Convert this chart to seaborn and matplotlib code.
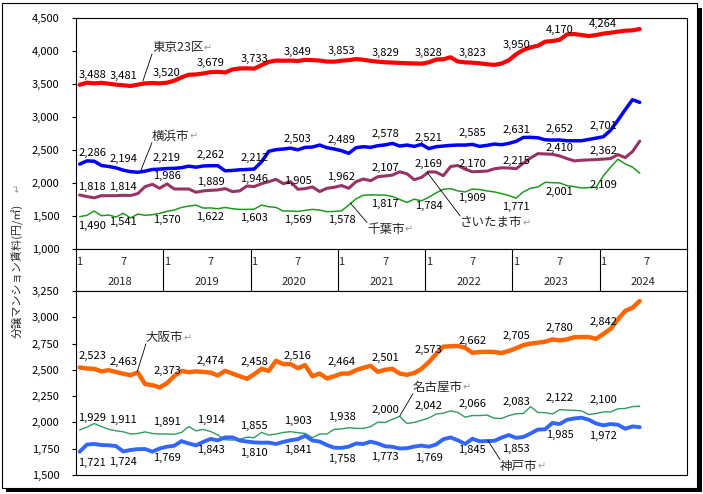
import numpy as np
import seaborn as sns
import matplotlib.pyplot as plt
from matplotlib.patches import Rectangle

# monthly rent (yen / m2), Jan 2018 .. Jun 2024
tokyo = [
    3488, 3520, 3510, 3518, 3505, 3490, 3481, 3470, 3490, 3510, 3515, 3510,
    3520, 3550, 3600, 3640, 3645, 3660, 3679, 3685, 3675, 3720, 3735, 3738,
    3733, 3785, 3835, 3855, 3852, 3855, 3849, 3865, 3862, 3855, 3840, 3838,
    3853, 3862, 3878, 3868, 3850, 3838, 3829, 3825, 3820, 3815, 3812, 3808,
    3828, 3870, 3875, 3905, 3840, 3828, 3823, 3813, 3800, 3790, 3810, 3860,
    3950, 4015, 4055, 4080, 4141, 4151, 4170, 4252, 4257, 4242, 4227, 4242,
    4264, 4277, 4293, 4308, 4313, 4333]
yokohama = [
    2286, 2335, 2330, 2265, 2250, 2230, 2194, 2172, 2162, 2180, 2205, 2210,
    2219, 2222, 2232, 2255, 2240, 2258, 2262, 2262, 2185, 2190, 2200, 2205,
    2212, 2320, 2480, 2505, 2515, 2528, 2503, 2540, 2545, 2575, 2535, 2515,
    2489, 2450, 2535, 2550, 2540, 2565, 2578, 2600, 2560, 2575, 2555, 2585,
    2521, 2550, 2560, 2570, 2575, 2575, 2585, 2555, 2570, 2590, 2580, 2600,
    2631, 2690, 2692, 2685, 2655, 2650, 2652, 2640, 2640, 2640, 2660, 2680,
    2701, 2800, 2950, 3110, 3262, 3222]
saitama = [
    1818, 1795, 1775, 1808, 1808, 1808, 1814, 1810, 1840, 1945, 1980, 1920,
    1986, 1910, 1909, 1909, 1860, 1880, 1889, 1895, 1915, 1870, 1880, 1955,
    1946, 1990, 2020, 2055, 1990, 2020, 1905, 1915, 1940, 1870, 1920, 1935,
    1962, 1920, 2020, 2060, 2035, 2095, 2107, 2120, 2170, 2140, 2050, 2085,
    2169, 2165, 2110, 2250, 2265, 2210, 2170, 2175, 2180, 2215, 2230, 2228,
    2215, 2300, 2380, 2445, 2440, 2435, 2410, 2370, 2335, 2345, 2350, 2355,
    2362, 2370, 2430, 2385, 2475, 2635]
chiba = [
    1490, 1510, 1575, 1505, 1515, 1485, 1541, 1470, 1530, 1510, 1520, 1540,
    1570, 1590, 1630, 1650, 1665, 1620, 1622, 1610, 1630, 1610, 1600, 1600,
    1603, 1665, 1640, 1630, 1575, 1575, 1569, 1585, 1600, 1590, 1565, 1570,
    1578, 1665, 1760, 1815, 1820, 1818, 1817, 1795, 1750, 1705, 1755, 1730,
    1784, 1850, 1905, 1915, 1880, 1865, 1909, 1900, 1880, 1865, 1840, 1810,
    1771, 1865, 1920, 1940, 2010, 2005, 2001, 1960, 1945, 1925, 1930, 1935,
    2109, 2240, 2360, 2290, 2240, 2150]
osaka = [
    2523, 2513, 2510, 2485, 2497, 2480, 2463, 2450, 2475, 2365, 2355, 2333,
    2373, 2440, 2490, 2478, 2485, 2480, 2474, 2447, 2490, 2465, 2440, 2415,
    2458, 2510, 2490, 2586, 2555, 2555, 2516, 2545, 2440, 2465, 2418, 2440,
    2464, 2465, 2497, 2520, 2538, 2482, 2501, 2510, 2465, 2453, 2470, 2510,
    2573, 2650, 2720, 2725, 2727, 2710, 2662, 2670, 2672, 2670, 2660, 2680,
    2705, 2735, 2750, 2758, 2768, 2790, 2780, 2790, 2810, 2812, 2812, 2795,
    2842, 2890, 2980, 3060, 3090, 3155]
nagoya = [
    1929, 1955, 1990, 1960, 1935, 1920, 1911, 1890, 1895, 1910, 1895, 1890,
    1891, 1887, 1905, 1960, 1920, 1933, 1914, 1880, 1835, 1832, 1840, 1860,
    1855, 1905, 1880, 1890, 1905, 1912, 1903, 1895, 1855, 1890, 1890, 1935,
    1938, 1950, 1943, 1943, 1960, 2003, 2000, 2030, 2058, 1990, 2000, 2020,
    2042, 2080, 2088, 2110, 2095, 2050, 2066, 2065, 2070, 2040, 2038, 2065,
    2083, 2085, 2150, 2095, 2093, 2080, 2122, 2118, 2115, 2110, 2075, 2085,
    2100, 2100, 2130, 2133, 2150, 2155]
kobe = [
    1721, 1790, 1795, 1785, 1783, 1775, 1724, 1738, 1746, 1747, 1722, 1752,
    1769, 1778, 1822, 1800, 1782, 1815, 1843, 1830, 1858, 1858, 1828, 1818,
    1810, 1807, 1808, 1795, 1815, 1830, 1841, 1873, 1828, 1818, 1785, 1760,
    1758, 1770, 1800, 1795, 1817, 1800, 1773, 1768, 1752, 1755, 1770, 1780,
    1769, 1790, 1840, 1857, 1830, 1795, 1845, 1820, 1823, 1825, 1855, 1880,
    1853, 1862, 1895, 1932, 1935, 1995, 1985, 2025, 2038, 2045, 2025, 1990,
    1972, 1985, 1978, 1940, 1962, 1955]

years = [2018, 2019, 2020, 2021, 2022, 2023, 2024]
month_ticks = ["1", "7"]
top_yticks = [1000, 1500, 2000, 2500, 3000, 3500, 4000, 4500]
bot_yticks = [1500, 1750, 2000, 2250, 2500, 2750, 3000, 3250]
ylabel = "分譲マンション賃料(円/㎡)"

sns.set_theme(style="white")
plt.rcParams['font.family'] = ['Noto Sans CJK JP', 'DejaVu Sans']

W, H = 703, 494
fig = plt.figure(figsize=(W / 100, H / 100), dpi=100)


def box(l, t, r, b):
    return [l / W, 1 - b / H, (r - l) / W, (b - t) / H]


# outer frame with drop shadow
fig.add_artist(Rectangle((6 / W, 1 - 492 / H), 696 / W, 484 / H, transform=fig.transFigure,
                         facecolor="black", edgecolor="none", zorder=-2))
fig.add_artist(Rectangle((2 / W, 1 - 488 / H), 695 / W, 485 / H, transform=fig.transFigure,
                         facecolor="white", edgecolor="black", lw=0.8, zorder=-1))

ax_top = fig.add_axes(box(76, 18, 687, 249))
ax_band = fig.add_axes(box(76, 249, 687, 291))
ax_bot = fig.add_axes(box(76, 291, 687, 475))

n_cat = 12 * len(years)
months = np.arange(len(tokyo)) + 0.5

# name, values, colour, width, label offset (pt, + above / - below)
top_series = [
    ("千葉市", chiba, "#1E9A1E", 1.1, -6.5),
    ("さいたま市", saitama, "#993366", 2.2, 5.8),
    ("横浜市", yokohama, "#0000FF", 2.5, 7.9),
    ("東京23区", tokyo, "#FF0000", 3.0, 6.8),
]
bot_series = [
    ("名古屋市", nagoya, "#339966", 1.0, 8.6),
    ("神戸市", kobe, "#3366FF", 2.8, -7.9),
    ("大阪市", osaka, "#FF6600", 3.2, 8.6),
]


def draw_panel(ax, series, ylim, yticks):
    for name, vals, col, lw, off in series:
        sns.lineplot(x=months, y=vals, ax=ax, color=col, linewidth=lw,
                     solid_joinstyle="round", solid_capstyle="round")
        for i in range(0, len(vals), 6):
            xi = months[i] if i > 0 else 0.3
            ax.annotate(f"{vals[i]:,}", (xi, vals[i]), xytext=(0, off),
                        textcoords="offset points", ha="center" if i > 0 else "left",
                        va="center", fontsize=8, color="black")
    ax.set_xlim(0, n_cat)
    ax.set_ylim(*ylim)
    ax.set_yticks(yticks)
    ax.set_yticklabels([f"{t:,}" for t in yticks])
    ax.set_xticks([])
    ax.set_xlabel("")
    ax.set_ylabel("")
    ax.tick_params(axis="y", left=True, direction="out", length=3, width=0.8,
                   pad=9, labelsize=8, colors="black")
    for sp in ax.spines.values():
        sp.set_color("black")
        sp.set_linewidth(0.8)


draw_panel(ax_top, top_series, (1000, 4500), top_yticks)
draw_panel(ax_bot, bot_series, (1500, 3250), bot_yticks)


# series names with leader lines
def name_label(ax, text, xy, xytext, rel):
    t = ax.text(xytext[0], xytext[1], text, ha="left", va="center", fontsize=9)
    ax.annotate("", xy=xy, xytext=rel, textcoords=t,
                arrowprops=dict(arrowstyle="-", color="black", lw=0.6,
                                shrinkA=0, shrinkB=0))
    ax.annotate("↵", xy=(1, 0.45), xycoords=t, ha="left", va="center",
                fontsize=7, color="#999999")


name_label(ax_top, "東京23区", (9.2, 3545), (10.45, 4053), (0, 0))
name_label(ax_top, "横浜市", (8.9, 2185), (10.45, 2712), (0, 0))
name_label(ax_top, "千葉市", (37.7, 1700), (40.0, 1303), (0, 1))
name_label(ax_top, "さいたま市", (48.25, 2167), (52.8, 1405), (0, 1))
name_label(ax_bot, "大阪市", (8.4, 2478), (9.62, 2810), (0, 0))
name_label(ax_bot, "名古屋市", (44.5, 2060), (46.33, 2336), (0, 0))
name_label(ax_bot, "神戸市", (56.6, 1832), (58.3, 1585), (0, 1))

# category band: months and years
ax_band.set_xlim(0, n_cat)
ax_band.set_ylim(0, 1)
ax_band.set_xticks([])
ax_band.set_yticks([])
for sp in ax_band.spines.values():
    sp.set_color("black")
    sp.set_linewidth(0.8)
for k, yr in enumerate(years):
    if k > 0:
        ax_band.axvline(12 * k, color="black", lw=0.8)
    ax_band.text(12 * k + 0.5, 0.69, month_ticks[0], ha="center", va="center", fontsize=8)
    ax_band.text(12 * k + 6.5, 0.69, month_ticks[1], ha="center", va="center", fontsize=8)
    ax_band.text(12 * k + 6, 0.21, str(yr), ha="center", va="center", fontsize=8)

fig.text(18 / W, 1 - 271 / H, ylabel, rotation=90, ha="center", va="center", fontsize=8)
fig.text(18 / W, 1 - 188 / H, "↵", rotation=90, ha="center", va="center",
         fontsize=7, color="#999999")

fig.savefig("out.png", dpi=100)
